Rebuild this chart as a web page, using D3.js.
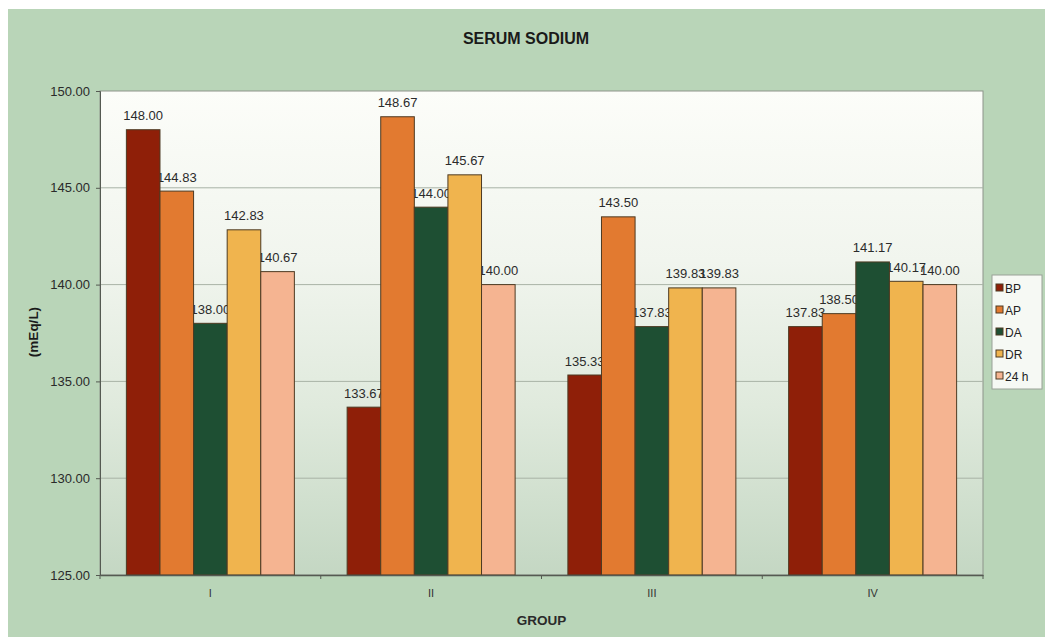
<!DOCTYPE html>
<html>
<head>
<meta charset="utf-8">
<script src="https://cdn.jsdelivr.net/npm/d3@7"></script>
<style>
  html, body { margin: 0; padding: 0; background: #ffffff; }
  svg { display: block; font-family: "Liberation Sans", Arial, sans-serif; }
</style>
</head>
<body>
<svg id="chart" width="1045" height="643"></svg>
<script>
// Serum sodium (mEq/L) per group at five sampling points
const groups = ["I", "II", "III", "IV"];
const seriesNames = ["BP", "AP", "DA", "DR", "24 h"];
const bpValues  = [148.00, 133.67, 135.33, 137.83];
const apValues  = [144.83, 148.67, 143.50, 138.50];
const daValues  = [138.00, 144.00, 137.83, 141.17];
const drValues  = [142.83, 145.67, 139.83, 140.17];
const h24Values = [140.67, 140.00, 139.83, 140.00];
const yTickValues = [125, 130, 135, 140, 145, 150];
const seriesColors = ["#8f1f08", "#e27a30", "#1e4f33", "#f0b44e", "#f5b491"];

const seriesValues = [bpValues, apValues, daValues, drValues, h24Values];
const rows = [];
groups.forEach((g, gi) => {
  seriesNames.forEach((s, si) => {
    rows.push({ group: g, series: s, value: seriesValues[si][gi] });
  });
});

const svg = d3.select("#chart");
const W = 1045, H = 643;
const plot = { left: 100, right: 983, top: 91, bottom: 575 };

// gradients
const defs = svg.append("defs");
const grad = defs.append("linearGradient").attr("id", "plotBg")
  .attr("x1", 0).attr("y1", 0).attr("x2", 0).attr("y2", 1);
grad.append("stop").attr("offset", "0%").attr("stop-color", "#fcfdf9");
grad.append("stop").attr("offset", "35%").attr("stop-color", "#f1f5ee");
grad.append("stop").attr("offset", "65%").attr("stop-color", "#e0eadd");
grad.append("stop").attr("offset", "100%").attr("stop-color", "#c4d7c3");

// chart area
svg.append("rect").attr("x", 8).attr("y", 9).attr("width", W - 8).attr("height", 628)
  .attr("fill", "#b9d5b8");

// plot area
svg.append("rect")
  .attr("x", plot.left).attr("y", plot.top)
  .attr("width", plot.right - plot.left).attr("height", plot.bottom - plot.top)
  .attr("fill", "url(#plotBg)").attr("stroke", "#8d948a").attr("stroke-width", 1);

const x0 = d3.scaleBand().domain(groups).range([plot.left, plot.right])
  .paddingInner(0.239).paddingOuter(0.1195);
const x1 = d3.scaleBand().domain(seriesNames).range([0, x0.bandwidth()]);
const y = d3.scaleLinear().domain([125, 150]).range([plot.bottom, plot.top]);
const color = d3.scaleOrdinal().domain(seriesNames).range(seriesColors);
const fmt = d3.format(".2f");

// gridlines
svg.append("g").selectAll("line")
  .data(yTickValues.filter(v => v > 125 && v < 150))
  .join("line")
  .attr("x1", plot.left).attr("x2", plot.right)
  .attr("y1", d => y(d)).attr("y2", d => y(d))
  .attr("stroke", "#a9b3a6").attr("stroke-width", 1);

// value labels (drawn beneath the bars)
svg.append("g").selectAll("text")
  .data(rows)
  .join("text")
  .attr("x", d => x0(d.group) + x1(d.series) + x1.bandwidth() / 2)
  .attr("y", d => y(d.value) - 9.5)
  .attr("text-anchor", "middle")
  .attr("font-size", 13)
  .attr("fill", "#2b2b2b")
  .text(d => fmt(d.value));

// bars
svg.append("g").selectAll("rect")
  .data(rows)
  .join("rect")
  .attr("x", d => x0(d.group) + x1(d.series))
  .attr("y", d => y(d.value))
  .attr("width", x1.bandwidth())
  .attr("height", d => y(125) - y(d.value))
  .attr("fill", d => color(d.series))
  .attr("stroke", "#4d3a22")
  .attr("stroke-width", 1);

// y axis
const yAxis = svg.append("g")
  .attr("transform", `translate(${plot.left},0)`)
  .call(d3.axisLeft(y).tickValues(yTickValues).tickFormat(fmt).tickSize(4).tickPadding(6));
yAxis.select(".domain").attr("stroke", "#555a52");
yAxis.selectAll(".tick line").attr("stroke", "#555a52");
yAxis.selectAll("text").attr("font-size", 13).attr("fill", "#2a2a2a")
  .attr("font-family", "Liberation Sans, Arial, sans-serif");

// x axis
const xAxis = svg.append("g")
  .attr("transform", `translate(0,${plot.bottom})`)
  .call(d3.axisBottom(x0).tickSize(0).tickPadding(14));
xAxis.select(".domain").attr("stroke", "#555a52").attr("stroke-width", 1.5);
xAxis.selectAll("text").attr("font-size", 11).attr("fill", "#333")
  .attr("font-family", "Liberation Sans, Arial, sans-serif");
// category boundary ticks
const bounds = d3.range(groups.length + 1).map(i => plot.left + i * x0.step());
svg.append("g").selectAll("line").data(bounds).join("line")
  .attr("x1", d => d).attr("x2", d => d)
  .attr("y1", plot.bottom).attr("y2", plot.bottom + 4)
  .attr("stroke", "#555a52");

// titles
svg.append("text").attr("x", 526).attr("y", 44).attr("text-anchor", "middle")
  .attr("font-size", 16).attr("font-weight", "bold").attr("fill", "#1a1a1a")
  .text("SERUM SODIUM");
svg.append("text").attr("transform", "translate(38,332) rotate(-90)")
  .attr("text-anchor", "middle")
  .attr("font-size", 13.5).attr("font-weight", "bold").attr("fill", "#1a1a1a")
  .text("(mEq/L)");
svg.append("text").attr("x", (plot.left + plot.right) / 2).attr("y", 625)
  .attr("text-anchor", "middle")
  .attr("font-size", 13.5).attr("font-weight", "bold").attr("fill", "#2a2a2a")
  .text("GROUP");

// legend
const legend = svg.append("g");
legend.append("rect").attr("x", 992).attr("y", 275).attr("width", 50).attr("height", 114)
  .attr("fill", "#f6f9f4").attr("stroke", "#9aa297");
const item = legend.selectAll("g.item").data(seriesNames).join("g")
  .attr("class", "item")
  .attr("transform", (d, i) => `translate(996,${288 + i * 22})`);
item.append("rect").attr("x", 0).attr("y", -4).attr("width", 7).attr("height", 7)
  .attr("fill", d => color(d)).attr("stroke", "#4d3a22").attr("stroke-width", 1);
item.append("text").attr("x", 9).attr("y", 4.5)
  .attr("font-size", 12).attr("fill", "#222")
  .text(d => d);
</script>
</body>
</html>
